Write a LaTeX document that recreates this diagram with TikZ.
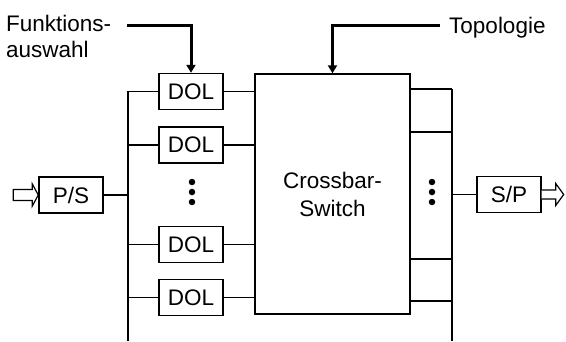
\documentclass[tikz,border=0pt]{standalone}
\usepackage{fontspec}
\setmainfont{Liberation Sans}
\usetikzlibrary{arrows.meta}
\begin{document}
\begin{tikzpicture}[x=1pt,y=-1pt,
  txt/.style={font=\fontsize{22.5}{26}\selectfont},
  box/.style={draw, line width=1.4pt, minimum width=64pt, minimum height=36pt, inner sep=0pt, txt},
  wire/.style={line width=1.1pt},
  bus/.style={line width=1.8pt},
  ctrl/.style={line width=3pt, -{Triangle[width=9pt,length=8pt]}},
  lbl/.style={txt, inner sep=0pt},
  hollow/.style={draw, line width=1.2pt, fill=white, line join=miter},
  dotn/.style={circle, fill, inner sep=0pt, minimum size=6.5pt}
]
\useasboundingbox (0,0) rectangle (566,341);

% DOL boxes
\node[box] (d1) at (191,91.5) {DOL};
\node[box] (d2) at (191,145) {DOL};
\node[box] (d3) at (191,244.5) {DOL};
\node[box] (d4) at (191,297.5) {DOL};
\node[dotn] (ld1) at (192,182) {};
\node[dotn] (ld2) at (192,192) {};
\node[dotn] (ld3) at (192,202) {};

% converters
\node[box] (ps) at (71,195) {P/S};
\node[box] (sp) at (509,194.5) {S/P};

% crossbar
\node[draw, line width=1.4pt, minimum width=155pt, minimum height=240pt, inner sep=0pt,
      align=center, font=\fontsize{22.5}{28}\selectfont] (cb) at (332.5,194) {Crossbar-\\Switch};

\node[dotn] (rd1) at (432,182) {};
\node[dotn] (rd2) at (432,192) {};
\node[dotn] (rd3) at (432,202) {};

% labels
\node[lbl, anchor=north west, align=left] (fa) at (6,15) {Funktions-\\auswahl};
\node[lbl, anchor=base west] (topo) at (449,33) {Topologie};
\coordinate (fas) at (127,25);
\coordinate (tps) at (440,25);

% buses
\coordinate (lt) at (128,91);
\coordinate (lb) at (128,341);
\coordinate (rt) at (452,89);
\coordinate (rb) at (452,341);
\draw[bus] (lt) -- (lb);
\draw[bus] (rt) -- (rb);

% DOL connections
\foreach \d in {d1,d2,d3,d4} {
  \draw[wire] (lt |- \d.west) -- (\d.west);
  \draw[wire] (\d.east) -- (cb.west |- \d.east);
}
\draw[wire] (ps.east) -- (lt |- ps.east);

% right side
\foreach \yy in {89,132,259,301} {
  \draw[wire] (cb.east |- 0,\yy) -- (rt |- 0,\yy);
}
\draw[wire] (rt |- sp.west) -- (sp.west);

% control arrows
\draw[ctrl] (fas) -| (d1.north);
\draw[ctrl] (tps) -| (cb.north);

% hollow arrows
\draw[hollow] (ps.west) -- ++(-6,-11) -- ++(0,5.5) -- ++(-19,0) -- ++(0,11) -- ++(19,0) -- ++(0,5.5) -- cycle;
\draw[hollow] (sp.east) ++(0,-4.5) -- ++(14,0) -- ++(0,-6.5) -- ++(8,11) -- ++(-8,11) -- ++(0,-6.5) -- ++(-14,0);
\end{tikzpicture}
\end{document}
